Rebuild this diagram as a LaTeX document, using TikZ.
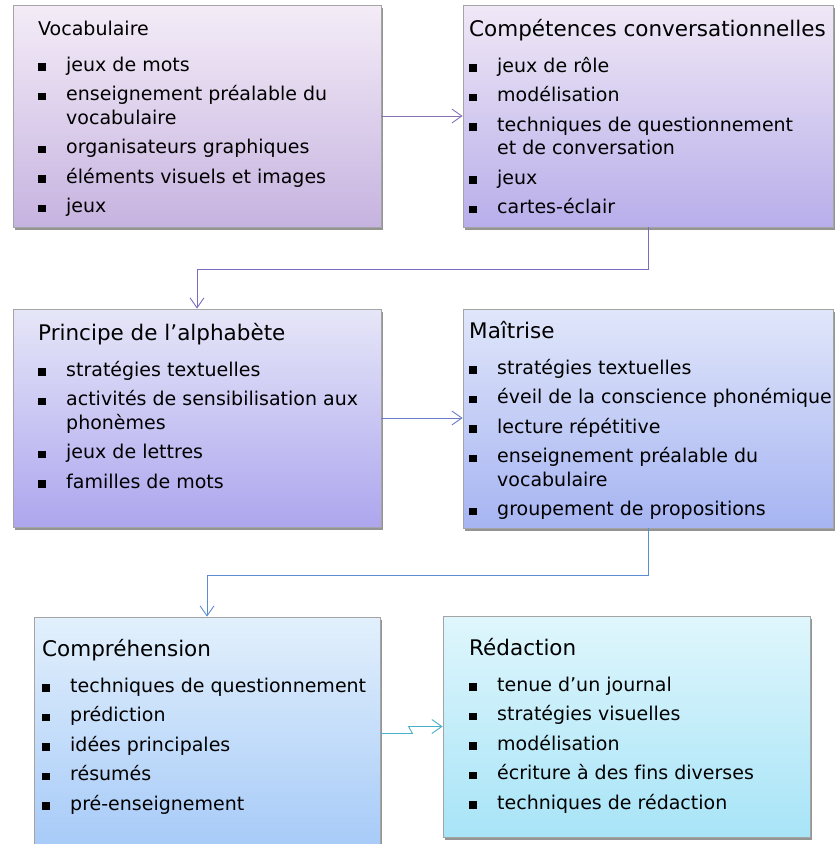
\documentclass[tikz,border=0pt]{standalone}
\usepackage{fontspec}
\setmainfont{DejaVu Sans}[Ligatures=NoCommon]
\usetikzlibrary{arrows.meta,shadows}
\usepackage{xcolor}

\definecolor{vocHaut}{HTML}{F4ECF7}
\definecolor{vocBas}{HTML}{C6B3E0}
\definecolor{compHaut}{HTML}{F0E8F6}
\definecolor{compBas}{HTML}{B8AEEA}
\definecolor{alphaHaut}{HTML}{E6E6F8}
\definecolor{alphaBas}{HTML}{ADA6EE}
\definecolor{maitHaut}{HTML}{E0E6FA}
\definecolor{maitBas}{HTML}{A6B4F2}
\definecolor{comprHaut}{HTML}{E2F0FC}
\definecolor{comprBas}{HTML}{A6CAF8}
\definecolor{redacHaut}{HTML}{DFF6FC}
\definecolor{redacBas}{HTML}{A8E4F7}
\definecolor{bord}{HTML}{A4A4A4}
\definecolor{fl1}{HTML}{8A72B8}
\definecolor{fl2}{HTML}{7B6CC2}
\definecolor{fl3}{HTML}{6A7CC8}
\definecolor{fl4}{HTML}{5A8CD2}
\definecolor{fl5}{HTML}{4AAFCB}

\newcommand{\puce}{\makebox[28pt][l]{\rule[0.5pt]{7.5pt}{7.5pt}}}
\newcommand{\itm}[1]{\par\hangindent=28pt\hangafter=1\noindent\puce#1}
\newcommand{\titre}[1]{{\fontsize{21.5}{24}\selectfont #1}\par\vspace{6.5pt}}
\newcommand{\petittitre}[1]{#1\par\vspace{6.5pt}}
\newcommand{\corps}{\fontsize{19}{23.5}\selectfont\setlength{\parskip}{6pt}\raggedright}

\begin{document}
\begin{tikzpicture}[x=1pt,y={(0pt,-1pt)},
  boite/.style={draw=bord, line width=0.8pt, inner sep=0pt,
    drop shadow={shadow xshift=2pt, shadow yshift=-3pt, opacity=.6, fill=black!70}},
  liste/.style={anchor=base west, inner sep=0pt},
  fleche/.style={-{Straight Barb[length=10pt,width=14pt]}, line width=0.9pt}]
	\useasboundingbox (0,0) rectangle (835,844);
	% boxes
	\node (voc) [boite, top color=vocHaut, bottom color=vocBas, minimum width=368pt, minimum height=222pt] at (197,116) {};
	\node (comp) [boite, top color=compHaut, bottom color=compBas, minimum width=370pt, minimum height=222pt] at (648,116) {};
	\node (alpha) [boite, top color=alphaHaut, bottom color=alphaBas, minimum width=368pt, minimum height=218pt] at (197,418) {};
	\node (mait) [boite, top color=maitHaut, bottom color=maitBas, minimum width=370pt, minimum height=219pt] at (648,418.5) {};
	\node (compr) [boite, top color=comprHaut, bottom color=comprBas, minimum width=346pt, minimum height=233pt] at (207,733.5) {};
	\node (redac) [boite, top color=redacHaut, bottom color=redacBas, minimum width=367pt, minimum height=221pt] at (626.5,726.5) {};
	% texts
	\node (voctxt) [liste] at (38,35) {\parbox[t]{380pt}{\corps
		\petittitre{Vocabulaire}
		\itm{jeux de mots}
		\itm{enseignement préalable du\newline vocabulaire}
		\itm{organisateurs graphiques}
		\itm{éléments visuels et images}
		\itm{jeux}}};
	\node (comptxt) [liste] at (469,36) {\parbox[t]{380pt}{\corps
		\titre{Compétences conversationnelles}
		\itm{jeux de rôle}
		\itm{modélisation}
		\itm{techniques de questionnement\newline et de conversation}
		\itm{jeux}
		\itm{cartes-éclair}}};
	\node (alphatxt) [liste] at (38,340) {\parbox[t]{380pt}{\corps
		\titre{Principe de l’alphabète}
		\itm{stratégies textuelles}
		\itm{activités de sensibilisation aux\newline phonèmes}
		\itm{jeux de lettres}
		\itm{familles de mots}}};
	\node (maittxt) [liste] at (469,338) {\parbox[t]{380pt}{\corps
		\titre{Maîtrise}
		\itm{stratégies textuelles}
		\itm{éveil de la conscience phonémique}
		\itm{lecture répétitive}
		\itm{enseignement préalable du\newline vocabulaire}
		\itm{groupement de propositions}}};
	\node (comprtxt) [liste] at (42,656) {\parbox[t]{380pt}{\corps
		\titre{Compréhension}
		\itm{techniques de questionnement}
		\itm{prédiction}
		\itm{idées principales}
		\itm{résumés}
		\itm{pré-enseignement}}};
	\node (redactxt) [liste] at (469,655) {\parbox[t]{380pt}{\corps
		\titre{Rédaction}
		\itm{tenue d’un journal}
		\itm{stratégies visuelles}
		\itm{modélisation}
		\itm{écriture à des fins diverses}
		\itm{techniques de rédaction}}};
	% arrows
	\draw[fleche, fl1] (voc) -- (comp);
	\draw[fleche, fl2] (comp.south) -- ++(0,42) -| (alpha.north);
	\draw[fleche, fl3] (alpha.east) -- (alpha.east -| mait.west);
	\draw[fleche, fl4] (mait.south) -- ++(0,47) -| (compr.north);
	\draw[fleche, fl5] (compr.east) -- ++(32,0) -- ([xshift=-34pt]redac.west) -- (redac.west);
\end{tikzpicture}
\end{document}
